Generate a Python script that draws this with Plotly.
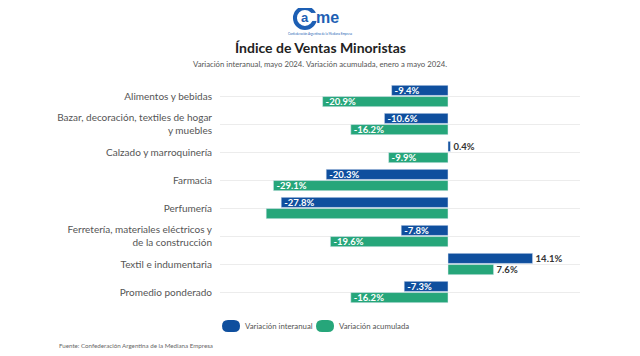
import plotly.graph_objects as go

categories = [
    "Alimentos y bebidas",
    "Bazar, decoración, textiles de hogar<br>y muebles",
    "Calzado y marroquinería",
    "Farmacia",
    "Perfumería",
    "Ferretería, materiales eléctricos y<br>de la construcción",
    "Textil e indumentaria",
    "Promedio ponderado",
]
interanual = [-9.4, -10.6, 0.4, -20.3, -27.8, -7.8, 14.1, -7.3]
acumulada = [-20.9, -16.2, -9.9, -29.1, -30.3, -19.6, 7.6, -16.2]
acumulada_labels = ["-20.9%", "-16.2%", "-9.9%", "-29.1%", "", "-19.6%", "7.6%", "-16.2%"]
series_names = ["Variación interanual", "Variación acumulada"]

BLUE = "#0f4f9e"
GREEN = "#26a67a"
LOGO = "#1d5fb4"
FONT = "Lato"

def positions(vals):
    return ["inside" if v < 0 else "outside" for v in vals]

fig = go.Figure()
for vals, labels, name, color in [
    (interanual, [f"{v:.1f}%" for v in interanual], series_names[0], BLUE),
    (acumulada, acumulada_labels, series_names[1], GREEN),
]:
    fig.add_trace(go.Bar(
        y=categories, x=vals, orientation="h", name=name,
        marker_color=color, text=labels,
        textposition=positions(vals), insidetextanchor="end",
        insidetextfont=dict(color="white", size=9.5, family=FONT, weight="bold"),
        outsidetextfont=dict(color="#333333", size=9.5, family=FONT, weight="bold"),
        textangle=0, cliponaxis=False, showlegend=False,
    ))

# logo ring (open "C")
fig.add_shape(type="circle", xref="paper", yref="paper", xsizemode="pixel", ysizemode="pixel",
              xanchor=0.236, yanchor=1.286, x0=-10, x1=10, y0=-10, y1=10,
              line=dict(color=LOGO, width=4), fillcolor="rgba(0,0,0,0)", layer="above")
fig.add_shape(type="rect", xref="paper", yref="paper", xsizemode="pixel", ysizemode="pixel",
              xanchor=0.236, yanchor=1.286, x0=6, x1=13, y0=-3, y1=5,
              line=dict(width=0), fillcolor="white", layer="above")

# custom legend with rounded swatches
pill = "M -9,0 Q -9,6 -3,6 L 3,6 Q 9,6 9,0 Q 9,-6 3,-6 L -3,-6 Q -9,-6 -9,0 Z"
legend_annotations = []
for (sx, tx), name, color in zip([(0.0306, 0.0639), (0.2917, 0.3250)], series_names, [BLUE, GREEN]):
    fig.add_shape(type="path", xref="paper", yref="paper", xsizemode="pixel", ysizemode="pixel",
                  xanchor=sx, yanchor=-0.0893, path=pill, fillcolor=color, line=dict(width=0))
    legend_annotations.append(dict(text=name, x=tx, y=-0.0893, xref="paper", yref="paper",
                                   showarrow=False, xanchor="left", yanchor="middle",
                                   font=dict(size=7.8, color="#555555")))

fig.update_layout(
    width=632, height=348,
    margin=dict(l=212, r=60, t=74, b=50),
    paper_bgcolor="white", plot_bgcolor="white",
    barmode="group", bargap=0.2, bargroupgap=0.1,
    font=dict(family=FONT, color="#555555"),
    uniformtext=dict(minsize=9, mode="show"),
    xaxis=dict(range=[-38, 22], visible=False, fixedrange=True),
    yaxis=dict(autorange="reversed", showgrid=True, gridcolor="#ececec", gridwidth=1,
               ticks="", ticklabelstandoff=7, tickfont=dict(size=10, color="#555555"),
               showline=False, zeroline=False, automargin=False),
    showlegend=False,
    annotations=[
        dict(text="<b>a</b>", x=0.236, y=1.29, xref="paper", yref="paper", showarrow=False,
             font=dict(size=13, color=LOGO, family="Liberation Sans"), xanchor="center", yanchor="middle"),
        dict(text="<b>me</b>", x=0.262, y=1.29, xref="paper", yref="paper", showarrow=False,
             font=dict(size=16, color=LOGO, family="Liberation Sans"), xanchor="left", yanchor="middle"),
        dict(text="Confederación Argentina de la Mediana Empresa", x=0.278, y=1.215, xref="paper", yref="paper",
             showarrow=False, font=dict(size=3, color=LOGO), xanchor="center", yanchor="middle"),
        dict(text="<b>Índice de Ventas Minoristas</b>", x=0.278, y=1.155, xref="paper", yref="paper",
             showarrow=False, font=dict(size=14, color="#222222"), xanchor="center", yanchor="middle"),
        dict(text="Variación interanual, mayo 2024. Variación acumulada, enero a mayo 2024.", x=0.278, y=1.08,
             xref="paper", yref="paper", showarrow=False, font=dict(size=7.75, color="#555555"),
             xanchor="center", yanchor="middle"),
        dict(text="Fuente: Confederación Argentina de la Mediana Empresa", x=-0.453, y=-0.178,
             xref="paper", yref="paper", showarrow=False, font=dict(size=6.2, color="#666666"),
             xanchor="left", yanchor="middle"),
    ] + legend_annotations,
)

fig.write_html("out.html")
